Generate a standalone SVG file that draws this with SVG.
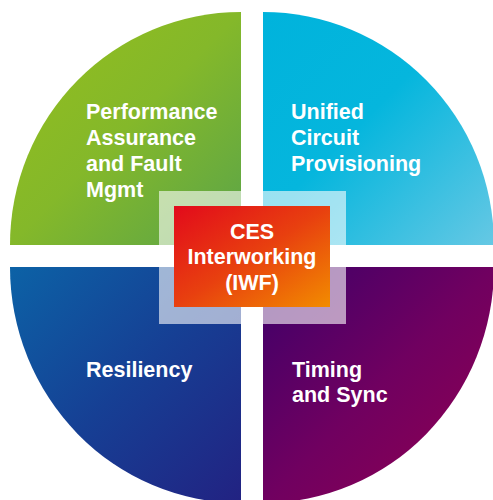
<svg xmlns="http://www.w3.org/2000/svg" width="493" height="500" viewBox="0 0 493 500">
  <defs>
    <linearGradient id="gGreen" x1="0" y1="0" x2="1" y2="1">
      <stop offset="0" stop-color="#95be1c"/>
      <stop offset="0.5" stop-color="#84b82a"/>
      <stop offset="1" stop-color="#5aa449"/>
    </linearGradient>
    <linearGradient id="gCyan" x1="0" y1="0" x2="1" y2="1">
      <stop offset="0" stop-color="#00b3dc"/>
      <stop offset="0.45" stop-color="#05b6dd"/>
      <stop offset="1" stop-color="#66c8e4"/>
    </linearGradient>
    <linearGradient id="gBlue" x1="0" y1="0" x2="1" y2="1">
      <stop offset="0" stop-color="#0c62a6"/>
      <stop offset="0.5" stop-color="#163f94"/>
      <stop offset="1" stop-color="#222282"/>
    </linearGradient>
    <linearGradient id="gPurple" x1="0" y1="0" x2="1" y2="1">
      <stop offset="0" stop-color="#3c006a"/>
      <stop offset="0.5" stop-color="#700060"/>
      <stop offset="1" stop-color="#920050"/>
    </linearGradient>
    <linearGradient id="gCore" x1="0" y1="0" x2="1" y2="1">
      <stop offset="0" stop-color="#e20a1b"/>
      <stop offset="0.5" stop-color="#e8400f"/>
      <stop offset="1" stop-color="#f28c00"/>
    </linearGradient>
  </defs>
  <style>
    .lbl { font-family: "Liberation Sans", Arial, sans-serif; font-weight: bold; font-size: 21.5px; fill: #ffffff; }
    .mid { text-anchor: middle; }
  </style>
  <rect x="0" y="0" width="493" height="500" fill="#ffffff"/>

  <g id="perf">
    <path d="M241,245 L10,245 A231,233 0 0 1 241,12 Z" fill="url(#gGreen)"/>
    <text class="lbl" x="86" y="119">Performance</text>
    <text class="lbl" x="86" y="145">Assurance</text>
    <text class="lbl" x="86" y="171">and Fault</text>
    <text class="lbl" x="86" y="197">Mgmt</text>
  </g>

  <g id="prov">
    <path d="M263,245 L263,12 A231,233 0 0 1 494,245 Z" fill="url(#gCyan)"/>
    <text class="lbl" x="291" y="119">Unified</text>
    <text class="lbl" x="291" y="145">Circuit</text>
    <text class="lbl" x="291" y="171">Provisioning</text>
  </g>

  <g id="resil">
    <path d="M241,267 L10,267 A231,236 0 0 0 241,503 Z" fill="url(#gBlue)"/>
    <text class="lbl" x="86" y="377">Resiliency</text>
  </g>

  <g id="timing">
    <path d="M263,267 L494,267 A231,236 0 0 1 263,503 Z" fill="url(#gPurple)"/>
    <text class="lbl" x="292" y="377">Timing</text>
    <text class="lbl" x="292" y="402">and Sync</text>
  </g>

  <g id="ces">
    <rect x="159" y="191" width="187" height="133" fill="#ffffff" fill-opacity="0.6"/>
    <rect x="174" y="206" width="156" height="101" fill="url(#gCore)"/>
    <text class="lbl mid" x="252" y="238.5">CES</text>
    <text class="lbl mid" x="252" y="264">Interworking</text>
    <text class="lbl mid" x="252" y="290">(IWF)</text>
  </g>
</svg>
